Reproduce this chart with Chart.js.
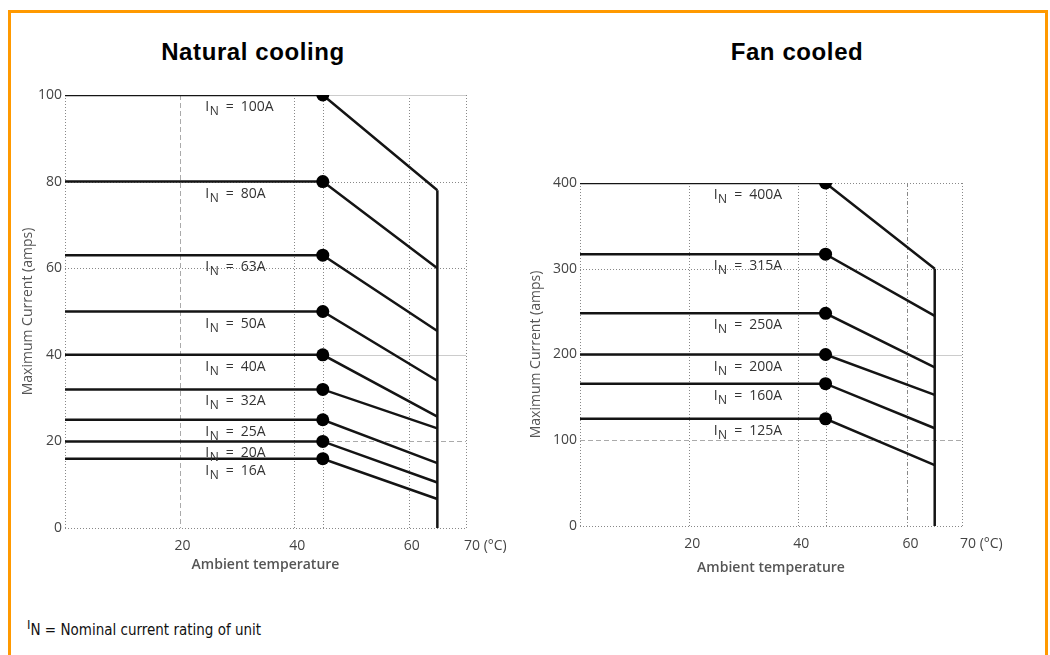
<!DOCTYPE html>
<html>
<head>
<meta charset="utf-8">
<script src="https://cdn.jsdelivr.net/npm/chart.js@4.4.0/dist/chart.umd.min.js"></script>
<style>
    body { margin: 0; background: #fff; width: 1050px; height: 655px; overflow: hidden; position: relative; }
    .frame { position: absolute; left: 8px; top: 10px; width: 1034px; height: 700px; border: 3px solid #ff9900; }
    .title { position: absolute; top: 38px; line-height: 24px; font: bold 24px 'Liberation Sans', Arial, sans-serif; letter-spacing: 0.6px; color: #000; transform: translateX(-50%); white-space: nowrap; }
    .wrap { position: absolute; top: 0; height: 600px; }
    .note { position: absolute; left: 27px; top: 621px; font: 15px 'Liberation Sans Narrow', 'DejaVu Sans Condensed', sans-serif; color: #111; }
    .note .sup { position: relative; top: -6px; font-size: 13px; }
</style>
</head>
<body>
<div class="frame"></div>
<div class="title" style="left:253px">Natural cooling</div>
<div class="title" style="left:797px">Fan cooled</div>
<div class="wrap" style="left:0;width:520px"><canvas id="naturalChart"></canvas></div>
<div class="wrap" style="left:520px;width:530px"><canvas id="fanChart"></canvas></div>
<div class="note"><span class="sup">I</span>N = Nominal current rating of unit</div>

<script>
// temperature points of each curve: start, knee, cut-off (°C)
const temps = [0, 45, 65];

const naturalRatings = [100, 80, 63, 50, 40, 32, 25, 20, 16];
const naturalLevels = [100, 80, 63, 50, 40, 32, 25, 20, 16];
const naturalEnds = [78, 60, 45.5, 34, 25.7, 23, 15, 10.5, 6.7];

const fanRatings = [400, 315, 250, 200, 160, 125];
const fanLevels = [400, 317, 248, 200, 166, 125];
const fanEnds = [300, 245, 185, 153, 114, 71];

const xTicks = [20, 40, 60, 70];
const xGrid = [0, 20, 40, 45, 60, 70];
const naturalYGrid = [0, 20, 40, 60, 80, 100];
const fanYGrid = [0, 100, 200, 300, 400];

const lineStyles = {
    dot: { color: '#888', dash: [1, 2] },
    dash: { color: '#aaa', dash: [5, 3] },
    solid: { color: '#ccc', dash: [] },
    dashdot: { color: '#888', dash: [4, 2, 1, 2] },
};

const gridLines = {
    id: 'gridLines',
    beforeDatasetsDraw(chart, args, opts) {
        const { ctx, scales: { x, y } } = chart;
        const draw = (style, x1, y1, x2, y2) => {
            const s = lineStyles[style];
            ctx.strokeStyle = s.color;
            ctx.setLineDash(s.dash);
            ctx.beginPath();
            ctx.moveTo(x1, y1);
            ctx.lineTo(x2, y2);
            ctx.stroke();
        };
        ctx.save();
        ctx.lineWidth = 1;
        opts.x.forEach((v, i) => {
            const px = Math.round(x.getPixelForValue(v)) + 0.5;
            draw(opts.xStyles[i], px, y.top, px, y.bottom);
        });
        opts.y.forEach((v, i) => {
            const py = Math.round(y.getPixelForValue(v)) + 0.5;
            draw(opts.yStyles[i], x.left, py, x.right, py);
        });
        ctx.restore();
    },
};

const ratingLabels = {
    id: 'ratingLabels',
    afterDatasetsDraw(chart, args, opts) {
        const { ctx, scales: { x, y } } = chart;
        ctx.save();
        ctx.fillStyle = '#333';
        ctx.textBaseline = 'alphabetic';
        opts.ratings.forEach((r, i) => {
            let px = x.getPixelForValue(opts.at);
            const py = y.getPixelForValue(opts.levels[i]) + 16;
            ctx.font = '14px "Open Sans"';
            ctx.fillText('I', px, py);
            px += ctx.measureText('I').width + 0.5;
            ctx.font = '12px "Open Sans"';
            ctx.fillText('N', px, py + 4);
            px += ctx.measureText('N').width;
            ctx.font = '14px "Open Sans"';
            ctx.fillText('\u2002=\u2002' + r + 'A', px, py);
        });
        ctx.restore();
    },
};

const buildDatasets = (levels, ends) => {
    const sets = levels.map((level, i) => ({
        data: temps.map((t, k) => ({ x: t, y: k < 2 ? level : ends[i] })),
        borderColor: '#141414',
        borderWidth: 2.5,
        pointRadius: [0, 6.5, 0],
        pointBackgroundColor: '#000',
        pointBorderWidth: 0,
        tension: 0,
    }));
    sets.push({
        data: [{ x: temps[2], y: 0 }, { x: temps[2], y: ends[0] }],
        borderColor: '#141414',
        borderWidth: 2.5,
        pointRadius: 0,
    });
    return sets;
};

const tickFont = { family: 'Open Sans', size: 14 };
const titleFont = { family: 'Open Sans', size: 14 };

const renderChart = (canvasId, cfg) => {
    const canvas = document.getElementById(canvasId);
    new Chart(canvas, {
        type: 'line',
        data: { datasets: buildDatasets(cfg.levels, cfg.ends) },
        options: {
            responsive: true,
            maintainAspectRatio: false,
            animation: false,
            layout: { padding: cfg.padding },
            plugins: {
                legend: { display: false },
                tooltip: { enabled: false },
                gridLines: {
                    x: xGrid,
                    xStyles: cfg.xStyles,
                    y: cfg.yGrid,
                    yStyles: cfg.yStyles,
                },
                ratingLabels: { ratings: cfg.ratings, levels: cfg.levels, at: 24.5 },
            },
            scales: {
                x: {
                    type: 'linear',
                    min: 0,
                    max: 70,
                    grid: { display: false, drawTicks: false },
                    border: { display: false },
                    afterBuildTicks: (scale) => {
                        scale.ticks = xTicks.map((v) => ({ value: v }));
                    },
                    afterFit: (scale) => {
                        scale.height = cfg.xHeight;
                    },
                    ticks: {
                        font: tickFont,
                        color: '#444',
                        padding: 10,
                        labelOffset: 3,
                        maxRotation: 0,
                        callback: (v) => (v === 70 ? '\u00a0\u00a0\u00a0\u00a0\u00a0\u00a0\u00a0\u00a0\u00a070 (°C)' : v),
                    },
                    title: {
                        display: true,
                        text: 'Ambient temperature',
                        font: { ...titleFont, weight: '600' },
                        color: '#555',
                        padding: { top: 0, bottom: cfg.xTitlePad },
                    },
                },
                y: {
                    min: 0,
                    max: cfg.yMax,
                    grid: { display: false, drawTicks: false },
                    border: { display: false },
                    afterFit: (scale) => {
                        scale.width = cfg.yWidth;
                    },
                    ticks: {
                        stepSize: cfg.yStep,
                        font: tickFont,
                        color: '#444',
                        padding: 3,
                    },
                    title: {
                        display: true,
                        text: 'Maximum Current (amps)',
                        font: titleFont,
                        color: '#555',
                        padding: { top: cfg.yTitlePad, bottom: 0 },
                    },
                },
            },
        },
        plugins: [gridLines, ratingLabels],
    });
};

renderChart('naturalChart', {
    ratings: naturalRatings,
    levels: naturalLevels,
    ends: naturalEnds,
    yMax: 100,
    yStep: 20,
    yGrid: naturalYGrid,
    yStyles: ['dot', 'dash', 'solid', 'dot', 'dot', 'solid'],
    xStyles: ['dot', 'dash', 'dot', 'dot', 'dot', 'dot'],
    padding: { left: 0, right: 54, top: 95, bottom: 22 },
    yWidth: 65,
    xHeight: 50,
    yTitlePad: 20,
    xTitlePad: 5,
});

renderChart('fanChart', {
    ratings: fanRatings,
    levels: fanLevels,
    ends: fanEnds,
    yMax: 400,
    yStep: 100,
    yGrid: fanYGrid,
    yStyles: ['dot', 'dash', 'solid', 'dot', 'dot'],
    xStyles: ['dot', 'dot', 'dot', 'dot', 'dashdot', 'dot'],
    padding: { left: 0, right: 88, top: 183, bottom: 22 },
    yWidth: 60,
    xHeight: 52,
    yTitlePad: 8,
    xTitlePad: 2,
});
</script>
</body>
</html>
